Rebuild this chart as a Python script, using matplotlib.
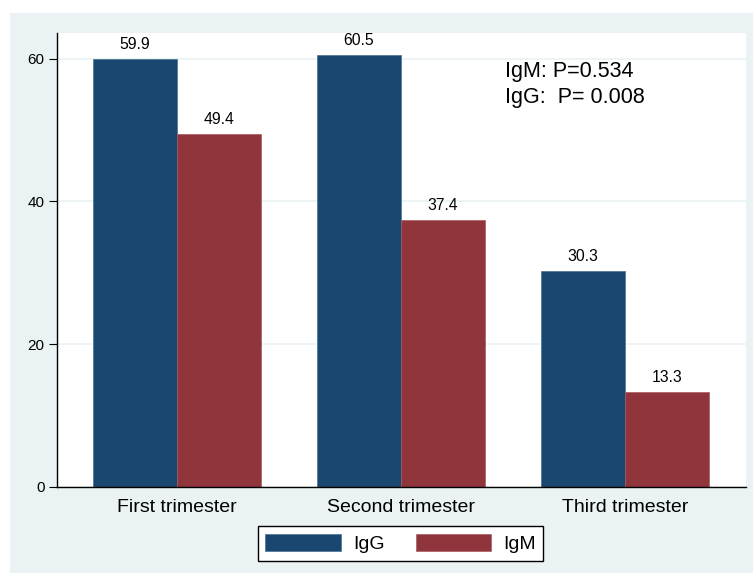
import numpy as np
import matplotlib
matplotlib.use("Agg")
import matplotlib.pyplot as plt
from matplotlib.patches import Rectangle, Patch

plt.rcParams['font.family'] = ['Liberation Sans', 'DejaVu Sans']

# data
groups = ["First trimester", "Second trimester", "Third trimester"]
igg = [59.9, 60.5, 30.3]
igm = [49.4, 37.4, 13.3]
series_names = ["IgG", "IgM"]
yticks = [0, 20, 40, 60]
note_lines = ["IgM: P=0.534", "IgG:  P= 0.008"]

col_igg = "#1a476f"
col_igm = "#90353b"
bg = "#eaf2f3"

W, H = 753, 573
fig = plt.figure(figsize=(W / 100, H / 100), dpi=100)
fig.patch.set_facecolor("white")

# outer stata-like background
fig.patches.append(Rectangle((10 / W, 0), 1 - 10 / W, (H - 13) / H,
                             transform=fig.transFigure, facecolor=bg,
                             edgecolor="none", zorder=-5))

ax = fig.add_axes([57 / W, (H - 487) / H, (746 - 57) / W, (487 - 33) / H])
ax.set_facecolor("white")

x = np.arange(len(groups))
w = 0.375
b1 = ax.bar(x - w / 2, igg, w, color=col_igg, edgecolor="#4a6f93", linewidth=0.5, zorder=2)
b2 = ax.bar(x + w / 2, igm, w, color=col_igm, edgecolor="#a85a60", linewidth=0.5, zorder=2)
ax.bar_label(b1, labels=[f"{v:.1f}" for v in igg], padding=5, fontsize=11.3)
ax.bar_label(b2, labels=[f"{v:.1f}" for v in igm], padding=5, fontsize=11.3)

ax.set_xlim(-0.536, 2.54)
ax.set_ylim(0, 63.6)
ax.set_yticks(yticks)
ax.set_yticklabels([str(t) for t in yticks], fontsize=11)
ax.set_xticks(x)
ax.set_xticklabels(groups, fontsize=14)
ax.tick_params(axis="x", length=0, pad=9)
ax.tick_params(axis="y", length=6, width=0.8, pad=3)
ax.yaxis.grid(True, color=bg, linewidth=1.2, zorder=0)
ax.set_axisbelow(True)
for s in ["top", "right"]:
    ax.spines[s].set_visible(False)
for s in ["left", "bottom"]:
    ax.spines[s].set_linewidth(1.0)

fig.text(505 / W, 1 - 72 / H, note_lines[0], fontsize=15.5, va="center", ha="left")
fig.text(505 / W, 1 - 98 / H, note_lines[1], fontsize=15.5, va="center", ha="left")

handles = [Patch(facecolor=col_igg, edgecolor="#4a6f93", linewidth=0.5),
           Patch(facecolor=col_igm, edgecolor="#a85a60", linewidth=0.5)]
leg = fig.legend(handles, series_names, loc="center", bbox_to_anchor=(400.5 / W, 1 - 543.5 / H),
                 ncol=2, fontsize=14, frameon=True, fancybox=False,
                 handlelength=3.9, handleheight=1.0, handletextpad=0.6,
                 columnspacing=1.6, borderpad=0.4, borderaxespad=0)
leg.get_frame().set_edgecolor("black")
leg.get_frame().set_linewidth(1.0)
leg.get_frame().set_facecolor("white")
leg.get_frame().set_alpha(1)

fig.savefig("out.png", dpi=100, facecolor=fig.get_facecolor())
